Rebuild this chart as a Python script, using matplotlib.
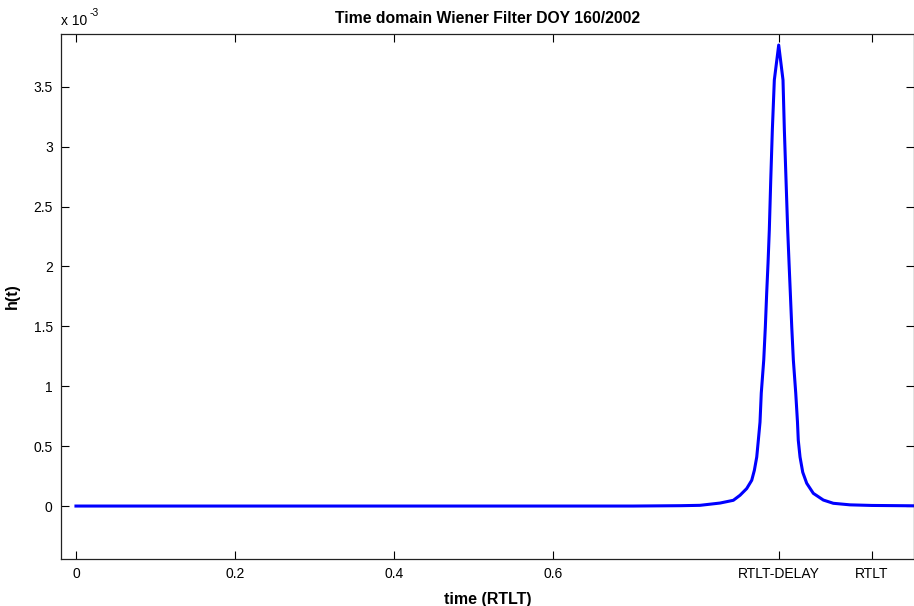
import matplotlib
matplotlib.use("Agg")
import matplotlib.pyplot as plt
import numpy as np

plt.rcParams['font.family'] = ['Liberation Sans', 'DejaVu Sans']

# data (time in units of RTLT, h in units of 1e-3)
time = [0.0, 0.70, 0.76, 0.7841, 0.8093, 0.8260, 0.8344, 0.8428, 0.8491, 0.8524,
        0.8554, 0.8574, 0.8595, 0.8611, 0.8642, 0.8662, 0.8679, 0.8696, 0.8712,
        0.8730, 0.8750, 0.8775, 0.8830, 0.8884, 0.8901, 0.8922, 0.8943, 0.8960,
        0.8976, 0.8994, 0.9014, 0.9044, 0.9066, 0.9076, 0.9098, 0.9132, 0.9182,
        0.9265, 0.9391, 0.9516, 0.9726, 1.00, 1.053]
h_e3 = [0.0, 0.0, 0.003, 0.006, 0.025, 0.048, 0.090, 0.146, 0.215, 0.298,
        0.409, 0.549, 0.700, 0.943, 1.219, 1.494, 1.778, 2.028, 2.304,
        2.721, 3.139, 3.556, 3.848, 3.556, 3.139, 2.721, 2.304, 2.028,
        1.778, 1.494, 1.219, 0.943, 0.700, 0.549, 0.409, 0.282, 0.190,
        0.106, 0.050, 0.023, 0.010, 0.005, 0.002]

rtlt = 1.0
delay = 0.117
xtick_pos = [0.0, 0.2, 0.4, 0.6, rtlt - delay, rtlt]
xtick_labels = ['0', '0.2', '0.4', '0.6', 'RTLT-DELAY', 'RTLT']
ytick_vals = [0, 0.5, 1, 1.5, 2, 2.5, 3, 3.5]
ytick_labels = ['0', '0.5', '1', '1.5', '2', '2.5', '3', '3.5']

fig = plt.figure(figsize=(9.14, 6.06), dpi=100)
ax = fig.add_axes([61/914, 1 - 559/606, 1 - 61/914, (559 - 34)/606])

ax.plot(np.array(time), np.array(h_e3) * 1e-3, color=(0, 0, 1), linewidth=2.2)

ax.set_xlim(-0.0188, 1.053)
ax.set_ylim(-0.442e-3, 3.940e-3)
ax.set_xticks(xtick_pos)
ax.set_xticklabels(xtick_labels)
ax.set_yticks([v * 1e-3 for v in ytick_vals])
ax.set_yticklabels(ytick_labels)

ax.tick_params(direction='in', length=6, width=0.8, top=True, right=True,
               labelsize=10, colors='black', pad=6)
for s in ax.spines.values():
    s.set_linewidth(0.9)
    s.set_color('#222222')

ax.set_title('Time domain Wiener Filter DOY 160/2002', fontsize=11.3,
             fontweight='bold', pad=8)
ax.set_xlabel('time (RTLT)', fontsize=11.5, fontweight='bold', labelpad=8)
ax.set_ylabel('h(t)', fontsize=11.5, fontweight='bold', labelpad=10)

ax.text(0.0, 1.012, 'x 10', transform=ax.transAxes, fontsize=10,
        ha='left', va='bottom')
ax.annotate('-3', xy=(0.0, 1.012), xycoords='axes fraction',
            xytext=(20.5, 7), textcoords='offset points', fontsize=7.5,
            ha='left', va='bottom')

fig.savefig('out.png', dpi=100)
